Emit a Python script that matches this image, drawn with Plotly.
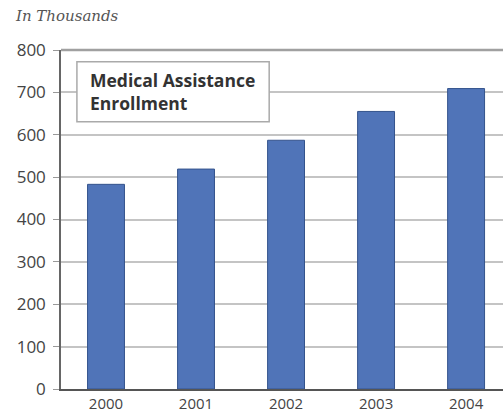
import plotly.graph_objects as go

years = ["2000", "2001", "2002", "2003", "2004"]
enrollment = [483, 519, 587, 655, 709]
y_ticks = [0, 100, 200, 300, 400, 500, 600, 700, 800]
unit_label = "In Thousands"
box_title = ["Medical Assistance", "Enrollment"]

fig = go.Figure()
fig.add_trace(go.Bar(
    x=years, y=enrollment, width=0.41,
    marker=dict(color="#5074b8", line=dict(color="#34538c", width=1)),
))

fig.update_layout(
    width=503, height=414,
    margin=dict(l=61, r=0, t=50, b=25),
    paper_bgcolor="white", plot_bgcolor="white",
    showlegend=False,
    font=dict(family="Open Sans", color="#333333"),
)
fig.update_xaxes(
    type="category", range=[-0.5, 4.41],
    showline=True, linecolor="#555555", linewidth=1.5,
    showgrid=False, ticks="",
    tickfont=dict(family="Open Sans", size=15, color="#444444"),
    automargin=False,
)
fig.update_yaxes(
    range=[0, 800], tickvals=y_ticks,
    showline=True, linecolor="#666666", linewidth=1.5,
    showgrid=True, gridcolor="#c4c4c4", gridwidth=1.5,
    ticks="outside", ticklen=6, tickcolor="#999999",
    tickfont=dict(family="Open Sans", size=17, color="#444444"),
    ticklabelstandoff=4,
    zeroline=False, automargin=False,
)
# top frame line
fig.add_shape(type="line", xref="paper", yref="paper", x0=0, x1=1, y0=1, y1=1,
              line=dict(color="#a0a0a0", width=2.5))
# title box
fig.add_shape(type="rect", xref="paper", yref="paper",
              x0=0.036, x1=0.471, y0=0.788, y1=0.965,
              line=dict(color="#aaaaaa", width=1.5), fillcolor="white")
fig.add_annotation(xref="paper", yref="paper", x=0.062, y=0.877,
                   text="<b>" + box_title[0] + "<br>" + box_title[1] + "</b>",
                   showarrow=False, align="left",
                   xanchor="left", yanchor="middle",
                   font=dict(family="Open Sans", size=17.5, color="#333333"))
fig.add_annotation(xref="paper", yref="paper", x=-0.108, y=1.0, yshift=34,
                   text="<i>" + unit_label + "</i>", showarrow=False,
                   xanchor="left", yanchor="middle",
                   font=dict(family="DejaVu Serif", size=15, color="#555555"))

fig.write_html("out.html", config={"displayModeBar": False},
               post_script="document.body.style.margin='0';")
